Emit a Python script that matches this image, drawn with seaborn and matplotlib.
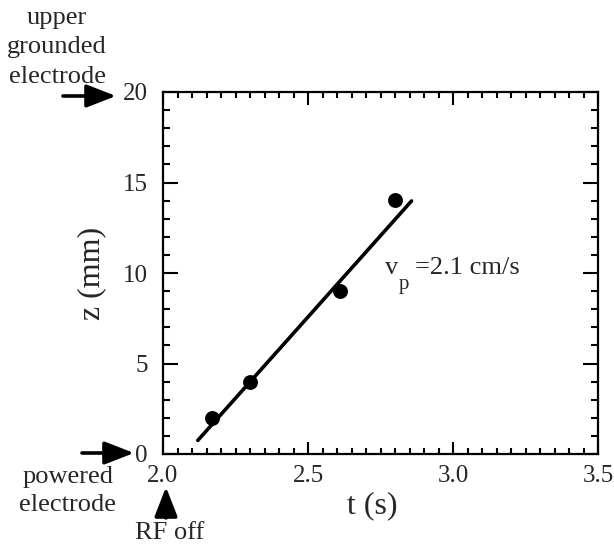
import matplotlib
matplotlib.use("Agg")
import matplotlib.pyplot as plt
import seaborn as sns
import pandas as pd
from matplotlib.ticker import MultipleLocator
from matplotlib.patches import FancyArrowPatch

# data
t_points = [2.17, 2.30, 2.61, 2.80]
z_points = [2.0, 4.0, 9.0, 14.05]
t_fit = [2.12, 2.857]
z_fit = [0.75, 13.98]
x_ticks = [2.0, 2.5, 3.0, 3.5]
x_tick_labels = ["2.0", "2.5", "3.0", "3.5"]
y_ticks = [0, 5, 10, 15, 20]
y_tick_labels = ["0", "5", "10", "15", "20"]

sns.set_theme(style="ticks")
plt.rcParams["font.family"] = ["Liberation Serif", "DejaVu Serif"]

W, H = 614, 548
fig = plt.figure(figsize=(W / 100, H / 100), dpi=100)
ax = fig.add_axes([163 / W, 1 - 454 / H, (598 - 163) / W, (454 - 92) / H])

pts = pd.DataFrame({"t": t_points, "z": z_points})
fit = pd.DataFrame({"t": t_fit, "z": z_fit})
sns.lineplot(data=fit, x="t", y="z", ax=ax, color="black", linewidth=2.6)
sns.scatterplot(data=pts, x="t", y="z", ax=ax, color="black", s=115,
                edgecolor="black", linewidth=0, zorder=3)

ax.set_xlim(2.0, 3.5)
ax.set_ylim(0, 20)
ax.set_xticks(x_ticks)
ax.set_xticklabels(x_tick_labels)
ax.set_yticks(y_ticks)
ax.set_yticklabels(y_tick_labels)
ax.xaxis.set_minor_locator(MultipleLocator(0.05))
ax.yaxis.set_minor_locator(MultipleLocator(1))
ax.tick_params(which="both", direction="in", top=True, right=True,
               color="black", width=1.5)
ax.tick_params(which="major", labelsize=18)
ax.tick_params(axis="x", which="major", length=9, pad=8)
ax.tick_params(axis="y", which="major", length=11, pad=11)
ax.tick_params(axis="x", which="minor", length=4.5)
ax.tick_params(axis="y", which="minor", length=5)
for s in ax.spines.values():
    s.set_color("black")
    s.set_linewidth(1.6)

ax.set_xlabel("t (s)", fontsize=23)
ax.set_ylabel("z (mm)", fontsize=23)
ax.xaxis.set_label_coords((372 - 163) / 435, (454 - 491) / 362)
ax.yaxis.set_label_coords((106 - 163) / 435, 0.5)

# velocity annotation
ax.text(2.765, 9.92, "v", fontsize=19, ha="left", va="baseline")
ax.text(2.812, 9.1, "p", fontsize=15, ha="left", va="baseline")
ax.text(2.868, 9.92, "=2.1 cm/s", fontsize=19, ha="left", va="baseline")

def fx(x):
    return x / W

def fy(y):
    return 1 - y / H

for txt, y in [("upper", 18), ("grounded", 47), ("electrode", 77)]:
    fig.text(fx(57), fy(y), txt, fontsize=19, ha="center", va="center")
for txt, y in [("powered", 477), ("electrode", 505)]:
    fig.text(fx(68), fy(y), txt, fontsize=19, ha="center", va="center")
fig.text(fx(170), fy(533), "RF off", fontsize=19, ha="center", va="center")

style = "-|>,head_length=0.9,head_width=0.35"
for (x0, y0), (x1, y1) in [((63, 96), (116, 96)),
                           ((82, 453), (134, 453)),
                           ((166, 518), (166, 487))]:
    fig.add_artist(FancyArrowPatch(
        (fx(x0), fy(y0)), (fx(x1), fy(y1)), transform=fig.transFigure,
        arrowstyle=style, mutation_scale=20, lw=2.6, color="black",
        shrinkA=0, shrinkB=0))

fig.savefig("out.png", dpi=100, facecolor="white")
